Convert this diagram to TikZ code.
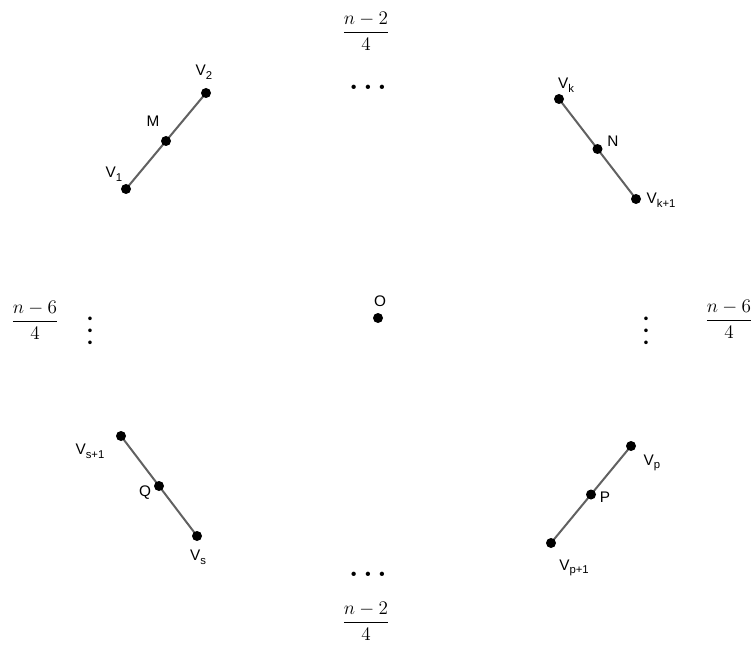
\documentclass[tikz,border=0pt]{standalone}
\usepackage{amsmath}
\usepackage{fontspec}
\setsansfont{Liberation Sans}
\usetikzlibrary{calc}

\newcommand{\lowsub}[1]{\raisebox{-0.45ex}{\fontsize{8.5}{10}\selectfont #1}}

\begin{document}
\begin{tikzpicture}[x=0.75pt,y=-0.75pt,
  seg/.style={draw=black!62,line width=1.5pt},
  pt/.style={circle,fill=black,inner sep=0pt,minimum size=7.5pt},
  lbl/.style={font=\sffamily\fontsize{11.5}{13}\selectfont,inner sep=0pt},
  frac/.style={font=\fontsize{14}{16}\selectfont,inner sep=0pt},
  dts/.style={font=\fontsize{22}{24}\selectfont\boldmath,inner sep=0pt},
  vdts/.style={font=\fontsize{16}{18}\selectfont\boldmath,inner sep=0pt,rotate=90}]
  \useasboundingbox (0,0) rectangle (755,645);
  % end points of the four sides
  \coordinate (V1) at (126,189);
  \coordinate (V2) at (206,93);
  \coordinate (Vk) at (559,99);
  \coordinate (Vk1) at (636,199);
  \coordinate (Vs1) at (121,436);
  \coordinate (Vs) at (197,536);
  \coordinate (Vp) at (631,446);
  \coordinate (Vp1) at (551,543);
  \draw[seg] (V1) -- (V2);
  \draw[seg] (Vk) -- (Vk1);
  \draw[seg] (Vs1) -- (Vs);
  \draw[seg] (Vp) -- (Vp1);
  % points
  \node[pt] (v1) at (V1) {};
  \node[pt] (v2) at (V2) {};
  \node[pt] (vk) at (Vk) {};
  \node[pt] (vk1) at (Vk1) {};
  \node[pt] (vs1) at (Vs1) {};
  \node[pt] (vs) at (Vs) {};
  \node[pt] (vp) at (Vp) {};
  \node[pt] (vp1) at (Vp1) {};
  \node[pt] (m) at ($(V1)!0.5!(V2)$) {};
  \node[pt] (n) at ($(Vk)!0.5!(Vk1)$) {};
  \node[pt] (q) at ($(Vs1)!0.5!(Vs)$) {};
  \node[pt] (p) at ($(Vp)!0.5!(Vp1)$) {};
  \node[pt] (o) at (378,318) {};
  % labels
  \node[lbl] (lv1) at (114,174) {V\lowsub{1}};
  \node[lbl] (lv2) at (204,72) {V\lowsub{2}};
  \node[lbl] (lm) at (153,121) {M};
  \node[lbl] (lvk) at (566,85) {V\lowsub{k}};
  \node[lbl] (ln) at (613,141) {N};
  \node[lbl] (lvk1) at (661,200) {V\lowsub{k+1}};
  \node[lbl] (lo) at (380,301) {O};
  \node[lbl] (lvs1) at (90,451) {V\lowsub{s+1}};
  \node[lbl] (lq) at (145,493) {Q};
  \node[lbl] (lvs) at (198,557) {V\lowsub{s}};
  \node[lbl] (lvp) at (652,463) {V\lowsub{p}};
  \node[lbl] (lp) at (605,497) {P};
  \node[lbl] (lvp1) at (574,568) {V\lowsub{p+1}};
  % counts and dots
  \node[frac] (ftop) at (366,31) {$\dfrac{n-2}{4}$};
  \node[frac] (fbot) at (366,621) {$\dfrac{n-2}{4}$};
  \node[frac] (fleft) at (35,320) {$\dfrac{n-6}{4}$};
  \node[frac] (fright) at (729,319) {$\dfrac{n-6}{4}$};
  \node[dts] (dtop) at (368,87) {$\ldots$};
  \node[dts] (dbot) at (368,574) {$\ldots$};
  \node[vdts] (dleft) at (90,331) {$\ldots$};
  \node[vdts] (dright) at (646,331) {$\ldots$};
\end{tikzpicture}
\end{document}
